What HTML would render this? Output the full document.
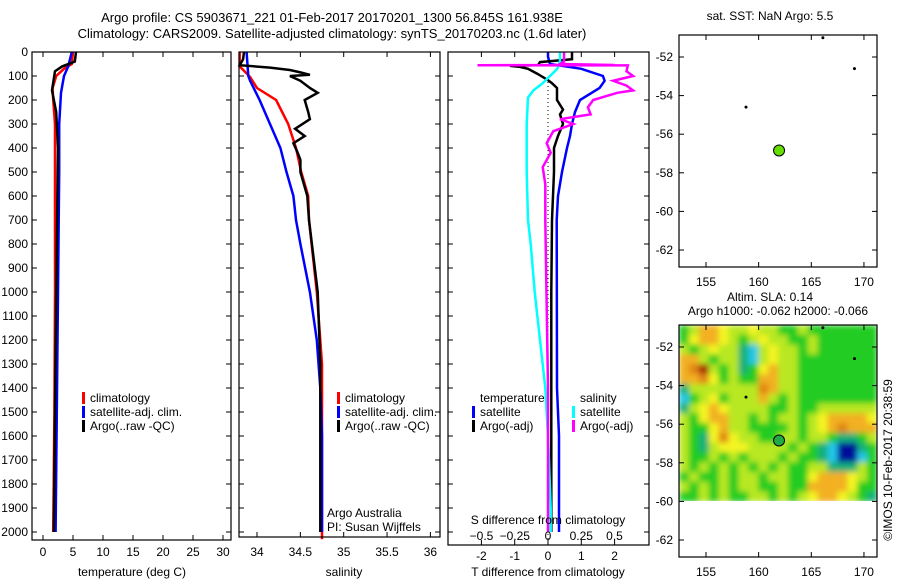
<!DOCTYPE html>
<html><head><meta charset="utf-8"><style>
html,body{margin:0;padding:0;background:#fff;}
svg{display:block;font-family:"Liberation Sans",sans-serif;}
</style></head><body>
<svg id="c" width="900" height="580" xmlns="http://www.w3.org/2000/svg">
<defs>
<filter id="blur" x="-5%" y="-5%" width="110%" height="110%"><feGaussianBlur stdDeviation="3"/></filter>
<clipPath id="hclip"><rect x="679" y="325" width="198" height="176"/></clipPath>
</defs>
<text x="332" y="22" font-size="13" text-anchor="middle">Argo profile: CS 5903671_221 01-Feb-2017 20170201_1300 56.845S 161.938E</text>
<text x="332" y="38" font-size="13" text-anchor="middle">Climatology: CARS2009. Satellite-adjusted climatology: synTS_20170203.nc (1.6d later)</text>
</svg>
<script>
// ---- data ----
const depthTicks=[0,100,200,300,400,500,600,700,800,900,1000,1100,1200,1300,1400,1500,1600,1700,1800,1900,2000];
const tempTicks=[0,5,10,15,20,25,30];
const salTicks=[34,34.5,35,35.5,36];
const tdiffTicks=[-2,-1,0,1,2];
const sdiffTicks=[-0.5,-0.25,0,0.25,0.5];
const lonTicks=[155,160,165,170];
const latTicks=[-52,-54,-56,-58,-60,-62];

const climTD=[0,50,70,100,150,200,300,500,1000,1500,2000];
const climT=[5.0,4.8,3.5,2.2,1.6,1.7,2.0,2.0,2.0,1.9,1.7];
const satTD=[0,60,100,170,300,500,1000,1500,2000];
const satT=[4.8,4.2,3.5,3.0,2.7,2.7,2.5,2.3,2.1];
const argoTD=[0,40,60,80,160,250,400,1000,2000];
const argoT=[5.5,5.3,3.2,2.0,1.5,2.2,2.5,2.2,1.8];

const climSD=[0,60,104,150,200,300,400,500,600,700,1000,1300,2000,2030];
const climS=[33.8,33.8,33.92,34.0,34.22,34.36,34.45,34.51,34.59,34.6,34.69,34.75,34.75,34.75];
const satSD=[0,100,120,200,300,400,500,600,700,800,1000,1200,1400,1600,2000];
const satS=[33.88,33.9,33.92,34.03,34.15,34.27,34.34,34.42,34.45,34.5,34.61,34.69,34.73,34.75,34.75];
const argoSD=[0,30,55,65,75,85,95,100,120,150,170,200,250,280,320,350,380,420,450,500,600,700,1000,1300,2000];
const argoS=[33.85,33.84,33.8,34.15,34.38,34.5,34.61,34.38,34.5,34.61,34.7,34.55,34.59,34.61,34.44,34.55,34.42,34.47,34.5,34.5,34.58,34.6,34.7,34.73,34.73];

const dTsatD=[0,20,50,70,100,120,150,200,250,300,350,400,500,600,700,1400,1600,2000];
const dTsat=[0,0,0.06,1.0,1.65,1.7,1.55,0.96,0.81,0.72,0.66,0.57,0.42,0.3,0.26,0.27,0.33,0.33];
const dTargoD=[0,30,42,55,58,62,70,90,117,130,150,200,240,260,300,350,400,500,600,700,1000,2000];
const dTargo=[0.72,0.72,-0.24,-0.3,-1.14,-0.84,-0.6,-0.33,0,0.12,0.27,0.27,0.45,0.36,0.45,0.3,0.18,0.18,0.15,0.12,0.1,0.1];
const dSsatD=[0,40,70,100,130,160,190,300,500,700,800,1000,1400,1600,1900,2000];
const dSsat=[0.09,0.09,0.07,0.015,-0.04,-0.11,-0.15,-0.16,-0.16,-0.15,-0.13,-0.1,-0.02,0,0.02,0.02];
const dSargoD=[0,40,50,54,55,56,80,100,120,140,160,170,200,230,260,280,300,330,380,420,480,550,700,1400,2000];
const dSargo=[0.12,0.12,0.09,0.5,-0.53,0.6,0.59,0.64,0.49,0.59,0.64,0.52,0.34,0.3,0.32,0.09,0.19,0.04,-0.01,0.02,-0.04,-0.02,-0.02,0,0];

const floatLon=161.938, floatLat=-56.845;
const otherLon=[158.8,169.1,166.1];
const otherLat=[-54.6,-52.6,-51.0];

// heatmap levels: -4 darkblue ... 0 green ... 5 darkred
const sla=[
[0,1,3,3,2,1,1,2,1,1,0,0,1,0,0,0,0,0,0,0],
[0,2,3,3,2,1,0,1,2,1,1,0,0,1,0,0,0,0,0,0],
[1,0,1,2,1,1,-1,-2,1,2,1,1,0,1,0,0,0,0,0,0],
[3,3,1,0,1,1,-1,-2,1,2,1,1,0,0,0,0,0,0,0,0],
[3,4,5,1,0,1,-1,0,2,3,1,1,0,0,0,0,0,0,0,0],
[3,3,4,2,0,1,0,0,3,3,1,1,0,0,0,0,0,0,0,0],
[-1,1,1,1,1,1,1,1,4,3,1,1,0,0,0,0,0,0,0,0],
[-2,0,1,2,0,1,1,1,3,1,0,1,0,0,0,0,0,0,0,0],
[-1,1,2,3,2,1,1,1,1,0,0,1,0,0,1,1,1,1,1,1],
[1,0,2,3,3,1,1,0,1,0,1,1,0,1,2,3,3,3,3,2],
[1,0,0,2,3,1,1,0,0,0,0,1,0,1,2,3,4,3,3,3],
[1,0,-1,2,4,2,1,1,0,0,1,1,0,1,1,0,-1,-1,0,1],
[1,0,-1,1,2,2,2,1,1,1,1,0,1,0,-1,-2,-4,-4,-1,0],
[1,0,0,1,0,1,0,1,1,1,0,1,0,0,-1,-2,-4,-4,-2,0],
[1,0,1,0,1,0,1,0,1,0,1,0,0,1,1,-1,-1,-1,1,0],
[0,1,0,0,1,0,1,1,0,1,1,0,0,2,3,3,3,2,1,0],
[1,0,1,0,1,0,1,1,0,0,1,0,0,3,3,3,3,2,0,0],
[0,0,1,0,1,0,0,1,1,0,1,0,1,2,3,3,2,1,0,-1]];
const slaColors={"-4":"#000c9a","-3":"#0a50e0","-2":"#22c8e8","-1":"#14b078","0":"#22cc22","1":"#b8e820","2":"#f4f422","3":"#f2b020","4":"#e08414","5":"#a22408"};

// ---- drawing ----
const NS="http://www.w3.org/2000/svg";
const svg=document.getElementById('c');
function mk(tag,attrs,parent){const e=document.createElementNS(NS,tag);for(const k in attrs)e.setAttribute(k,attrs[k]);(parent||svg).appendChild(e);return e;}
function txt(x,y,s,size,anchor,parent){const t=mk('text',{x:x,y:y,'font-size':size,'text-anchor':anchor||'start'},parent);t.textContent=s;return t;}

const Y0=52;
const yD=d=>Y0+d*0.24;
const xT=v=>43+v*6;
const xS=v=>257+(v-34)*86.7;
const xDT=v=>548+v*33.3;
const xDS=v=>548+v*133;
const xLon=v=>706+(v-155)*10.53;
const yLat1=v=>57+(-52-v)*19.3;
const yLat2=v=>347+(-52-v)*19.3;

function line(ds,vs,fx,color,name,w){
  const pts=ds.map((d,i)=>fx(vs[i]).toFixed(1)+','+yD(d).toFixed(1)).join(' ');
  const p=mk('polyline',{points:pts,fill:'none',stroke:color,'stroke-width':w||2.5});
  
  
}
function frame(x0,x1,y0,y1,name){
  const r=mk('rect',{x:x0,y:y0,width:x1-x0,height:y1-y0,fill:'none',stroke:'#000','stroke-width':1.2});
  
  
}
function depthTickMarks(x0,x1){
  depthTicks.forEach(d=>{mk('line',{x1:x0,x2:x0+5,y1:yD(d),y2:yD(d),stroke:'#000'});mk('line',{x1:x1-5,x2:x1,y1:yD(d),y2:yD(d),stroke:'#000'});});
}
function xTickMarks(ticks,fx,y0,y1,labY){
  ticks.forEach(v=>{const x=fx(v);mk('line',{x1:x,x2:x,y1:y0,y2:y0+5,stroke:'#000'});mk('line',{x1:x,x2:x,y1:y1-5,y2:y1,stroke:'#000'});
    if(labY){const t=txt(x,labY,String(v),12,'middle');}});
}
function legend(x,y,items){
  items.forEach((it,i)=>{const yy=y+i*14;
    if(it[1])mk('rect',{x:x,y:yy-10,width:3,height:12,fill:it[1]});
    const t=txt(x+8,yy,it[0],12,'start');
    
    });
}

// Panel 1 temperature
depthTicks.forEach(d=>{const t=txt(28,yD(d)+4,String(d),12,'end');});
depthTickMarks(32,231);
xTickMarks(tempTicks,xT,Y0,540,556);
line(climTD,climT,xT,'#f00','temp-climatology-line');
line(satTD,satT,xT,'#00f','temp-satellite-line');
line(argoTD,argoT,xT,'#000','temp-argo-line');
frame(32,231,Y0,540,'temperature-panel');
txt(132,576,'temperature (deg C)',12,'middle');
legend(82,402,[['climatology','#f00'],['satellite-adj. clim.','#00f'],['Argo(..raw -QC)','#000']]);

// Panel 2 salinity
depthTickMarks(239,440);
xTickMarks(salTicks,xS,Y0,537,556);
line(climSD,climS,xS,'#f00','salinity-climatology-line');
line(satSD,satS,xS,'#00f','salinity-satellite-line');
line(argoSD,argoS,xS,'#000','salinity-argo-line');
frame(239,440,Y0,537,'salinity-panel');
txt(344,576,'salinity',12,'middle');
legend(337,402,[['climatology','#f00'],['satellite-adj. clim.','#00f'],['Argo(..raw -QC)','#000']]);
txt(327,517,'Argo Australia',12,'start');
txt(327,531,'PI: Susan Wijffels',12,'start');

// Panel 3 differences
depthTickMarks(448,649);
xTickMarks(tdiffTicks,xDT,Y0,545,560);
mk('line',{x1:548,x2:548,y1:Y0+30,y2:540,stroke:'#000','stroke-dasharray':'1,3'});
line(dTsatD,dTsat,xDT,'#00f','tdiff-satellite-line');
line(dTargoD,dTargo,xDT,'#000','tdiff-argo-line');
line(dSsatD,dSsat,xDS,'#0ff','sdiff-satellite-line');
line(dSargoD,dSargo,xDS,'#f0f','sdiff-argo-line');
frame(448,649,Y0,545,'difference-panel');
sdiffTicks.forEach(v=>{const t=txt(xDS(v),540,String(v).replace('-','\u2212'),12,'middle');});
txt(548,524,'S difference from climatology',12,'middle');
txt(548,576,'T difference from climatology',12,'middle');
legend(472,402,[['temperature',null],['satellite','#00f'],['Argo(-adj)','#000']]);
legend(572,402,[['salinity',null],['satellite','#0ff'],['Argo(-adj)','#f0f']]);

// Map 1
txt(770,20,'sat. SST: NaN Argo: 5.5',12,'middle');
frame(679,877,35,267,'sst-map');
lonTicks.forEach(v=>{const x=xLon(v);mk('line',{x1:x,x2:x,y1:35,y2:40,stroke:'#000'});mk('line',{x1:x,x2:x,y1:262,y2:267,stroke:'#000'});txt(x,286,String(v),12,'middle');});
latTicks.forEach(v=>{const y=yLat1(v);mk('line',{x1:679,x2:684,y1:y,y2:y,stroke:'#000'});mk('line',{x1:872,x2:877,y1:y,y2:y,stroke:'#000'});txt(673,y+4,String(v),12,'end');});
otherLon.forEach((v,i)=>{const c=mk('circle',{cx:xLon(v),cy:yLat1(otherLat[i]),r:1.5,fill:'#000'});});
const fc=mk('circle',{cx:xLon(floatLon),cy:yLat1(floatLat),r:5.5,fill:'#66dd00',stroke:'#000','stroke-width':1});



// Map 2 SLA
txt(770,301,'Altim. SLA: 0.14',12,'middle');
txt(778,315,'Argo h1000: -0.062 h2000: -0.066',12,'middle');
const hx0=679,hx1=877,hy0=325,hy1=yLat2(-60);
const cw=(hx1-hx0)/sla[0].length, ch=(hy1-hy0)/sla.length;
const hc=mk('g',{'clip-path':'url(#hclip)'});


const hg=mk('g',{filter:'url(#blur)'},hc);
sla.forEach((row,r)=>row.forEach((v,c)=>{const e=mk('rect',{x:(hx0+c*cw).toFixed(2),y:(hy0+r*ch).toFixed(2),width:(cw+0.5).toFixed(2),height:(ch+0.5).toFixed(2),fill:slaColors[String(v)]},hg);
  
  }));
frame(679,877,325,557,'sla-map');
lonTicks.forEach(v=>{const x=xLon(v);mk('line',{x1:x,x2:x,y1:325,y2:330,stroke:'#000'});mk('line',{x1:x,x2:x,y1:552,y2:557,stroke:'#000'});txt(x,576,String(v),12,'middle');});
latTicks.forEach(v=>{const y=yLat2(v);mk('line',{x1:679,x2:684,y1:y,y2:y,stroke:'#000'});mk('line',{x1:872,x2:877,y1:y,y2:y,stroke:'#000'});txt(673,y+4,String(v),12,'end');});
otherLon.forEach((v,i)=>{const c=mk('circle',{cx:xLon(v),cy:yLat2(otherLat[i]),r:1.5,fill:'#000'});});
const fc2=mk('circle',{cx:xLon(floatLon),cy:yLat2(floatLat),r:5.5,fill:'#22aa44',stroke:'#000','stroke-width':1});


const cr=txt(0,0,'©IMOS 10-Feb-2017 20:38:59',12,'middle');
cr.setAttribute('transform','translate(892,460) rotate(-90)');


</script>
</body></html>
